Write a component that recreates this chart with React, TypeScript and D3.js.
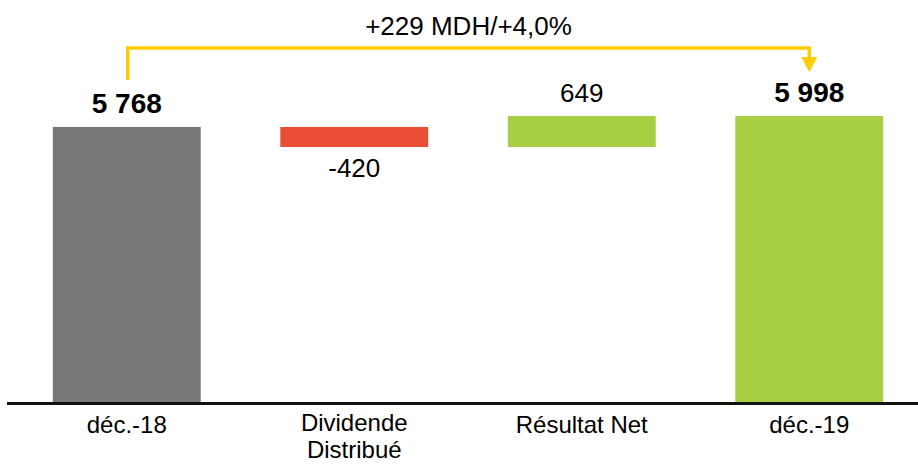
import React from "react";
import * as d3 from "d3";

const categories: string[][] = [["déc.-18"], ["Dividende", "Distribué"], ["Résultat Net"], ["déc.-19"]];
const kinds: string[] = ["total", "delta", "delta", "total"];
const values: number[] = [5768, -420, 649, 5998];
const valueLabels: string[] = ["5 768", "-420", "649", "5 998"];
const changeLabel = "+229 MDH/+4,0%";

const W = 918;
const H = 465;
const FONT = "Liberation Sans, Arial, sans-serif";
const colors = { total0: "#787878", neg: "#EA4F36", pos: "#A8CE43", total1: "#A8CE43", arrow: "#FFCC00" };

export default function App() {
  const x = d3.scaleBand<number>().domain(values.map((_, i) => i)).range([13, 923]).paddingInner(0.35).paddingOuter(0.175);
  const y = d3.scaleLinear().domain([0, 6000]).range([402, 115.9]);

  let running = 0;
  const bars = values.map((v, i) => {
    let lo: number, hi: number;
    if (kinds[i] === "total") {
      lo = 0; hi = v; running = v;
    } else {
      const start = running;
      running = start + v;
      lo = Math.min(start, running); hi = Math.max(start, running);
    }
    const fill = kinds[i] === "total" ? (i === 0 ? colors.total0 : colors.total1) : v < 0 ? colors.neg : colors.pos;
    return { i, v, lo, hi, fill };
  });

  const cx = (i: number) => (x(i) as number) + x.bandwidth() / 2;
  const first = bars[0];
  const last = bars[bars.length - 1];
  const lx = cx(0) + 1;
  const rx = cx(bars.length - 1);
  const topY = 48;
  const leftBottom = y(first.hi) - 47;
  const tipY = y(last.hi) - 44;
  const headH = 15;
  const headW = 8;

  return (
    <svg width={W} height={H} style={{ position: "absolute", left: 0, top: 0, background: "#fff" }}>
      {bars.map((b) => (
        <rect key={b.i} x={x(b.i)} y={y(b.hi)} width={x.bandwidth()} height={y(b.lo) - y(b.hi)} fill={b.fill} />
      ))}
      {bars.map((b) => {
        const isTotal = kinds[b.i] === "total";
        const below = !isTotal && b.v < 0;
        const ty = below ? y(b.lo) + 30 : y(b.hi) - 14;
        return (
          <text key={"l" + b.i} x={cx(b.i)} y={ty} textAnchor="middle" fontFamily={FONT}
            fontSize={isTotal ? 28 : 26} fontWeight={isTotal ? "bold" : "normal"} fill="#000">
            {valueLabels[b.i]}
          </text>
        );
      })}
      <line x1={7} x2={918} y1={403.5} y2={403.5} stroke="#111" strokeWidth={3} />
      {categories.map((lines, i) => (
        <text key={"c" + i} x={cx(i)} y={lines.length > 1 ? 431 : 433} textAnchor="middle" fontFamily={FONT} fontSize={24} fill="#000">
          {lines.map((t, j) => (
            <tspan key={j} x={cx(i)} dy={j === 0 ? 0 : 27}>{t}</tspan>
          ))}
        </text>
      ))}
      <path d={`M${lx},${leftBottom}V${topY}H${rx}V${tipY - headH}`} fill="none" stroke={colors.arrow} strokeWidth={3.5} />
      <path d={`M${rx - headW},${tipY - headH}L${rx + headW},${tipY - headH}L${rx},${tipY}Z`} fill={colors.arrow} />
      <text x={(lx + rx) / 2} y={35} textAnchor="middle" fontFamily={FONT} fontSize={26} fill="#000">{changeLabel}</text>
    </svg>
  );
}
